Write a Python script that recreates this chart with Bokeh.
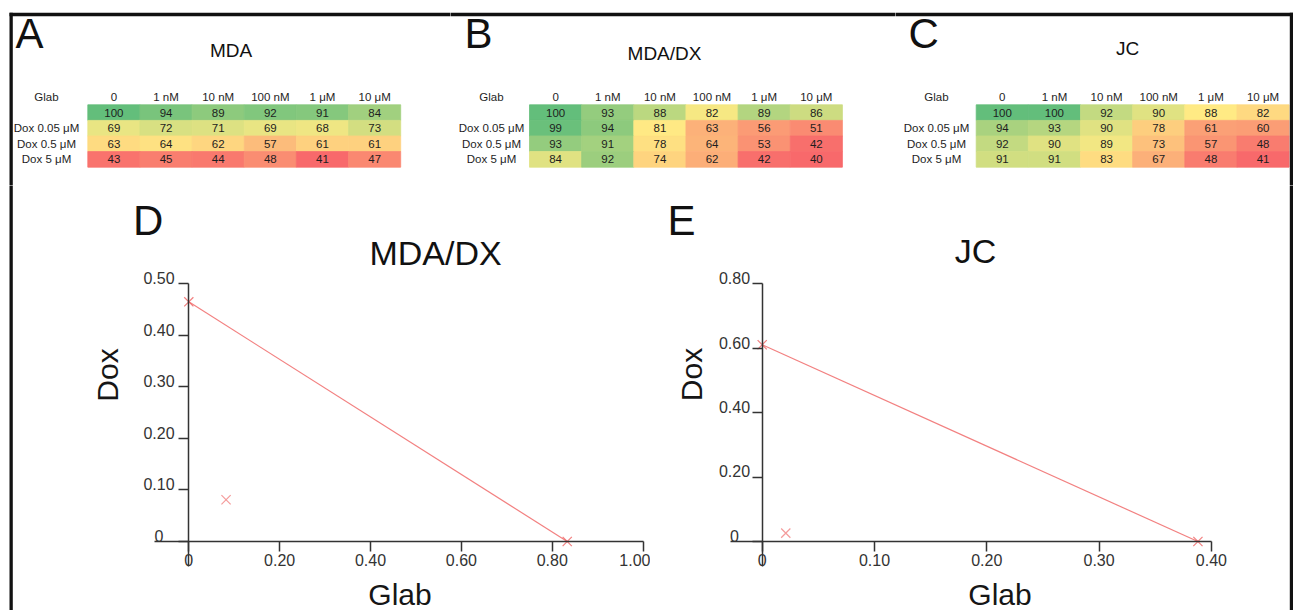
import numpy as np
from bokeh.plotting import figure
from bokeh.layouts import row, column
from bokeh.models import Range1d, FixedTicker, ColumnDataSource
from bokeh.core.properties import value
from bokeh.embed import file_html
from bokeh.resources import INLINE

FONT = "Liberation Sans"

# ---------------- data ----------------
glab_levels = ["0", "1 nM", "10 nM", "100 nM", "1 μM", "10 μM"]
dox_levels = ["", "Dox 0.05 μM", "Dox 0.5 μM", "Dox 5 μM"]

mda_values = [[100, 94, 89, 92, 91, 84],
              [69, 72, 71, 69, 68, 73],
              [63, 64, 62, 57, 61, 61],
              [43, 45, 44, 48, 41, 47]]
mdadx_values = [[100, 93, 88, 82, 89, 86],
                [99, 94, 81, 63, 56, 51],
                [93, 91, 78, 64, 53, 42],
                [84, 92, 74, 62, 42, 40]]
jc_values = [[100, 100, 92, 90, 88, 82],
             [94, 93, 90, 78, 61, 60],
             [92, 90, 89, 73, 57, 48],
             [91, 91, 83, 67, 48, 41]]

# isobologram MDA/DX
d_iso_glab = [0.0, 0.833]
d_iso_dox = [0.465, 0.0]
d_comb_glab = [0.082]
d_comb_dox = [0.081]
d_xticks = [0.0, 0.2, 0.4, 0.6, 0.8, 1.0]
d_xtick_labels = ["0", "0.20", "0.40", "0.60", "0.80", "1.00"]
d_yticks = [0.0, 0.1, 0.2, 0.3, 0.4, 0.5]
d_ytick_labels = ["0", "0.10", "0.20", "0.30", "0.40", "0.50"]

# isobologram JC
e_iso_glab = [0.0, 0.388]
e_iso_dox = [0.611, 0.0]
e_comb_glab = [0.021]
e_comb_dox = [0.026]
e_xticks = [0.0, 0.1, 0.2, 0.3, 0.4]
e_xtick_labels = ["0", "0.10", "0.20", "0.30", "0.40"]
e_yticks = [0.0, 0.2, 0.4, 0.6, 0.8]
e_ytick_labels = ["0", "0.20", "0.40", "0.60", "0.80"]

# ---------------- styling helpers ----------------
RED = np.array([248, 105, 107])
YEL = np.array([255, 235, 132])
GRN = np.array([99, 190, 123])
BORDER = "#111111"
AXC = "#333333"


def scale_colors(values):
    arr = np.array(values, dtype=float)
    flat = arr.ravel()
    lo, hi, mid = flat.min(), flat.max(), np.percentile(flat, 50)
    out = []
    for rowv in arr:
        rc = []
        for v in rowv:
            if v <= mid:
                t = (v - lo) / (mid - lo) if mid > lo else 1.0
                c = RED + (YEL - RED) * t
            else:
                t = (v - mid) / (hi - mid) if hi > mid else 1.0
                c = YEL + (GRN - YEL) * (t ** 0.8)
            rc.append("#%02x%02x%02x" % tuple(int(round(k)) for k in c))
        out.append(rc)
    return out


class PageMap:
    """picture pixel = a + s * data"""

    def __init__(self, X0, X1, Y0, Y1, ax, sx, ay, sy):
        self.X0, self.X1, self.Y0, self.Y1 = X0, X1, Y0, Y1
        self.ax, self.sx, self.ay, self.sy = ax, sx, ay, sy

    def x(self, px):
        return (px - self.ax) / self.sx

    def y(self, py):
        return (py - self.ay) / self.sy

    def figure(self, axes=False):
        kw = {} if axes else dict(x_axis_location=None, y_axis_location=None)
        p = figure(frame_width=self.X1 - self.X0, frame_height=self.Y1 - self.Y0,
                   x_range=Range1d(self.x(self.X0), self.x(self.X1)),
                   y_range=Range1d(self.y(self.Y1), self.y(self.Y0)),
                   min_border=0, toolbar_location=None, output_backend="svg", **kw)
        p.grid.visible = False
        p.outline_line_color = None
        p.background_fill_color = "white"
        p.border_fill_color = "white"
        return p

    def box(self, p, l, r, t, b):
        p.quad(left=[self.x(l)], right=[self.x(r)], top=[self.y(t)], bottom=[self.y(b)],
               fill_color=BORDER, line_color=None)


def txt(p, x, y, s, size, align="center", angle=0.0, color="#111111", x_offset=0):
    p.text(x=x, y=y, text=s, text_font=value(FONT), text_font_size=value(f"{size}px"),
           text_align=align, text_baseline="middle", angle=angle, text_color=color,
           x_offset=x_offset)


TOP_Y0, TOP_Y1 = 0, 185
BOT_Y0, BOT_Y1 = 185, 610
CW, RH = 52.15, 15.6
BT, BB = 12.3, 15.7          # top frame line
BL, BR = 9.0, 12.3           # left frame line
RL, RR = 1289.3, 1296.0      # right frame line


def heatmap(X0, X1, cells_left, label_cx, values, title, title_cx, title_cy,
            letter, letter_x, left_border=False, right_border=False):
    m = PageMap(X0, X1, TOP_Y0, TOP_Y1, cells_left + CW / 2, CW, 96.5, RH)
    p = m.figure()
    colors = scale_colors(values)
    xs, ys, cs, ts = [], [], [], []
    for r in range(len(dox_levels)):
        for c in range(len(glab_levels)):
            xs.append(c)
            ys.append(r + 1)
            cs.append(colors[r][c])
            ts.append(str(values[r][c]))
    src = ColumnDataSource(dict(x=xs, y=ys, color=cs, text=ts))
    p.rect("x", "y", 1, 1, source=src, fill_color="color", line_color="color", line_width=0.8)
    p.text("x", "y", text="text", source=src, text_font=value(FONT),
           text_font_size=value("11.5px"), text_align="center", text_baseline="middle",
           text_color="#1e1e1e")
    # header (Glab concentrations)
    txt(p, list(range(len(glab_levels))), [0] * len(glab_levels), glab_levels, 11.5, color="#1e1e1e")
    # row labels
    row_labels = ["Glab"] + dox_levels
    txt(p, [m.x(label_cx)] * len(row_labels), list(range(len(row_labels))), row_labels, 11.5,
        color="#1e1e1e")
    # title and panel letter
    txt(p, [m.x(title_cx)], [m.y(title_cy)], [title], 19)
    txt(p, [m.x(letter_x)], [m.y(33)], [letter], 42, align="left")
    # frame border
    m.box(p, BL if left_border else X0 - 3, X1 + 3, BT, BB)
    if left_border:
        m.box(p, BL, BR, BT, TOP_Y1 + 3)
    if right_border:
        m.box(p, RL, RR, BT, TOP_Y1 + 3)
    return p


def isobologram(X0, X1, x0px, xs, y0px, ys, iso_g, iso_d, comb_g, comb_d,
                xticks, xlabels, yticks, ylabels, xb0, yb0, ylab_off,
                title, title_cx, title_cy, letter, letter_x,
                dox_cx, dox_cy, glab_cx, left_border=False, right_border=False):
    m = PageMap(X0, X1, BOT_Y0, BOT_Y1, x0px, xs, y0px, -ys)
    p = m.figure(axes=True)
    xa, ya = p.xaxis[0], p.yaxis[0]
    for a in (xa, ya):
        a.fixed_location = 0
        a.axis_line_color = AXC
        a.axis_line_width = 1.5
        a.major_tick_line_color = AXC
        a.major_tick_line_width = 1.5
        a.major_tick_out = 10
        a.major_tick_in = 0
        a.minor_tick_out = 0
        a.minor_tick_in = 0
    xa.ticker = FixedTicker(ticks=xticks)
    ya.ticker = FixedTicker(ticks=yticks)
    xa.bounds = (xb0, xticks[-1])
    ya.bounds = (yb0, yticks[-1])
    xa.major_label_overrides = dict(zip(xticks, xlabels))
    xa.major_label_text_font = FONT
    xa.major_label_text_font_size = "16px"
    xa.major_label_text_color = AXC
    xa.major_label_standoff = 2
    ya.major_label_text_color = None
    # y tick labels sit on their ticks (digit bottoms at the tick)
    lift = 5.8 / ys
    txt(p, [0.0] * len(yticks), [t + lift for t in yticks], ylabels, 16, color=AXC, x_offset=ylab_off)
    # isobole and points
    p.line(iso_g, iso_d, line_color="#f06a6a", line_width=1.2, line_alpha=0.85)
    p.scatter(iso_g, iso_d, marker="x", size=13, line_color="#f06a6a", line_width=1.2, line_alpha=0.85)
    p.scatter(comb_g, comb_d, marker="x", size=13, line_color="#f28a8a", line_width=1.2, line_alpha=0.85)
    # texts
    txt(p, [m.x(letter_x)], [m.y(220)], [letter], 42, align="left")
    txt(p, [m.x(title_cx)], [m.y(title_cy)], [title], 34)
    txt(p, [m.x(dox_cx)], [m.y(dox_cy)], ["Dox"], 30, angle=np.pi / 2, color="#161616")
    txt(p, [m.x(glab_cx)], [m.y(594)], ["Glab"], 30, color="#161616")
    if left_border:
        m.box(p, BL, BR, BOT_Y0 - 3, BOT_Y1 + 3)
    if right_border:
        m.box(p, RL, RR, BOT_Y0 - 3, BOT_Y1 + 3)
    return p


hA = heatmap(0, 450, 87.3, 46, mda_values, "MDA", 230.5, 50, "A", 15, left_border=True)
hB = heatmap(450, 895, 529.0, 491, mdadx_values, "MDA/DX", 664, 53.3, "B", 464)
hC = heatmap(895, 1293, 975.7, 936, jc_values, "JC", 1127, 48.3, "C", 908, right_border=True)

pD = isobologram(0, 650, 188.3, 454.3, 541, 515.4, d_iso_glab, d_iso_dox, d_comb_glab, d_comb_dox,
                 d_xticks, d_xtick_labels, d_yticks, d_ytick_labels, -0.0755, -0.0485, -29.8,
                 "MDA/DX", 435, 252.5, "D", 132.5, 106.5, 374.5, 399.5, left_border=True)
pE = isobologram(650, 1293, 761.7, 1123.0, 541, 322.0, e_iso_glab, e_iso_dox, e_comb_glab, e_comb_dox,
                 e_xticks, e_xtick_labels, e_yticks, e_ytick_labels, -0.0282, -0.0776, -27.7,
                 "JC", 975, 250, "E", 667, 691, 374, 999.5, right_border=True)

layout = column(row(hA, hB, hC), row(pD, pE))

open("out.html", "w").write(file_html(layout, INLINE))
